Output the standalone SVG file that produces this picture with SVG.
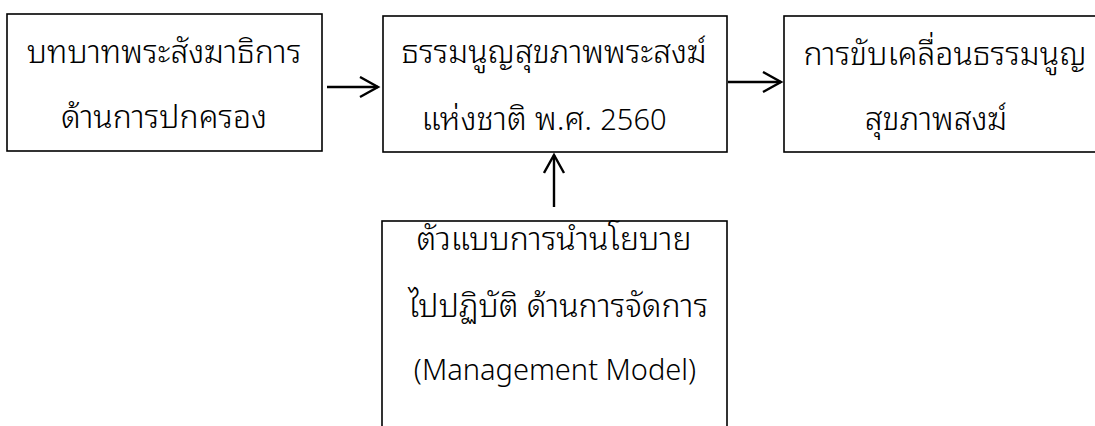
<svg xmlns="http://www.w3.org/2000/svg" width="1095" height="426" viewBox="0 0 1095 426">
<defs>
<style>
.box{fill:#fff;stroke:#000;stroke-width:1.6}
.t{font-family:"Noto Sans","Noto Sans Thai Looped",sans-serif;font-size:32px;font-weight:300;fill:#000;text-anchor:middle}
.lat{font-size:29px}
.c{stroke:#000;stroke-width:2.4;fill:none}
</style>
<marker id="ah" markerUnits="userSpaceOnUse" markerWidth="22" markerHeight="24" refX="19" refY="11" orient="auto" viewBox="0 0 22 24">
<path d="M1,1 L19,11 L1,21" fill="none" stroke="#000" stroke-width="2.4"/>
</marker>
</defs>
<rect width="1095" height="426" fill="#fff"/>
<g id="node-role">
<rect class="box" x="7" y="14" width="315" height="137"/>
<text class="t" x="164" y="63">บทบาทพระสังฆาธิการ</text>
<text class="t" x="164" y="128">ด้านการปกครอง</text>
</g>
<g id="node-charter">
<rect class="box" x="383" y="16" width="344" height="136"/>
<text class="t" x="554" y="63">ธรรมนูญสุขภาพพระสงฆ์</text>
<text class="t" x="544" y="130">แห่งชาติ พ.ศ. <tspan class="lat">2560</tspan></text>
</g>
<g id="node-drive">
<rect class="box" x="784" y="16" width="330" height="136"/>
<text class="t" x="945" y="65">การขับเคลื่อนธรรมนูญ</text>
<text class="t" x="936" y="130">สุขภาพสงฆ์</text>
</g>
<g id="node-model">
<rect class="box" x="382" y="221" width="345" height="230"/>
<text class="t" x="554" y="250">ตัวแบบการนำนโยบาย</text>
<text class="t" x="558" y="317">ไปปฏิบัติ ด้านการจัดการ</text>
<text class="t lat" x="555" y="380">(Management Model)</text>
</g>
<g id="connectors">
<line class="c" x1="327" y1="87" x2="378" y2="87" marker-end="url(#ah)"/>
<line class="c" x1="728" y1="82" x2="781" y2="82" marker-end="url(#ah)"/>
<line class="c" x1="554" y1="207" x2="554" y2="155" marker-end="url(#ah)"/>
</g>
</svg>
